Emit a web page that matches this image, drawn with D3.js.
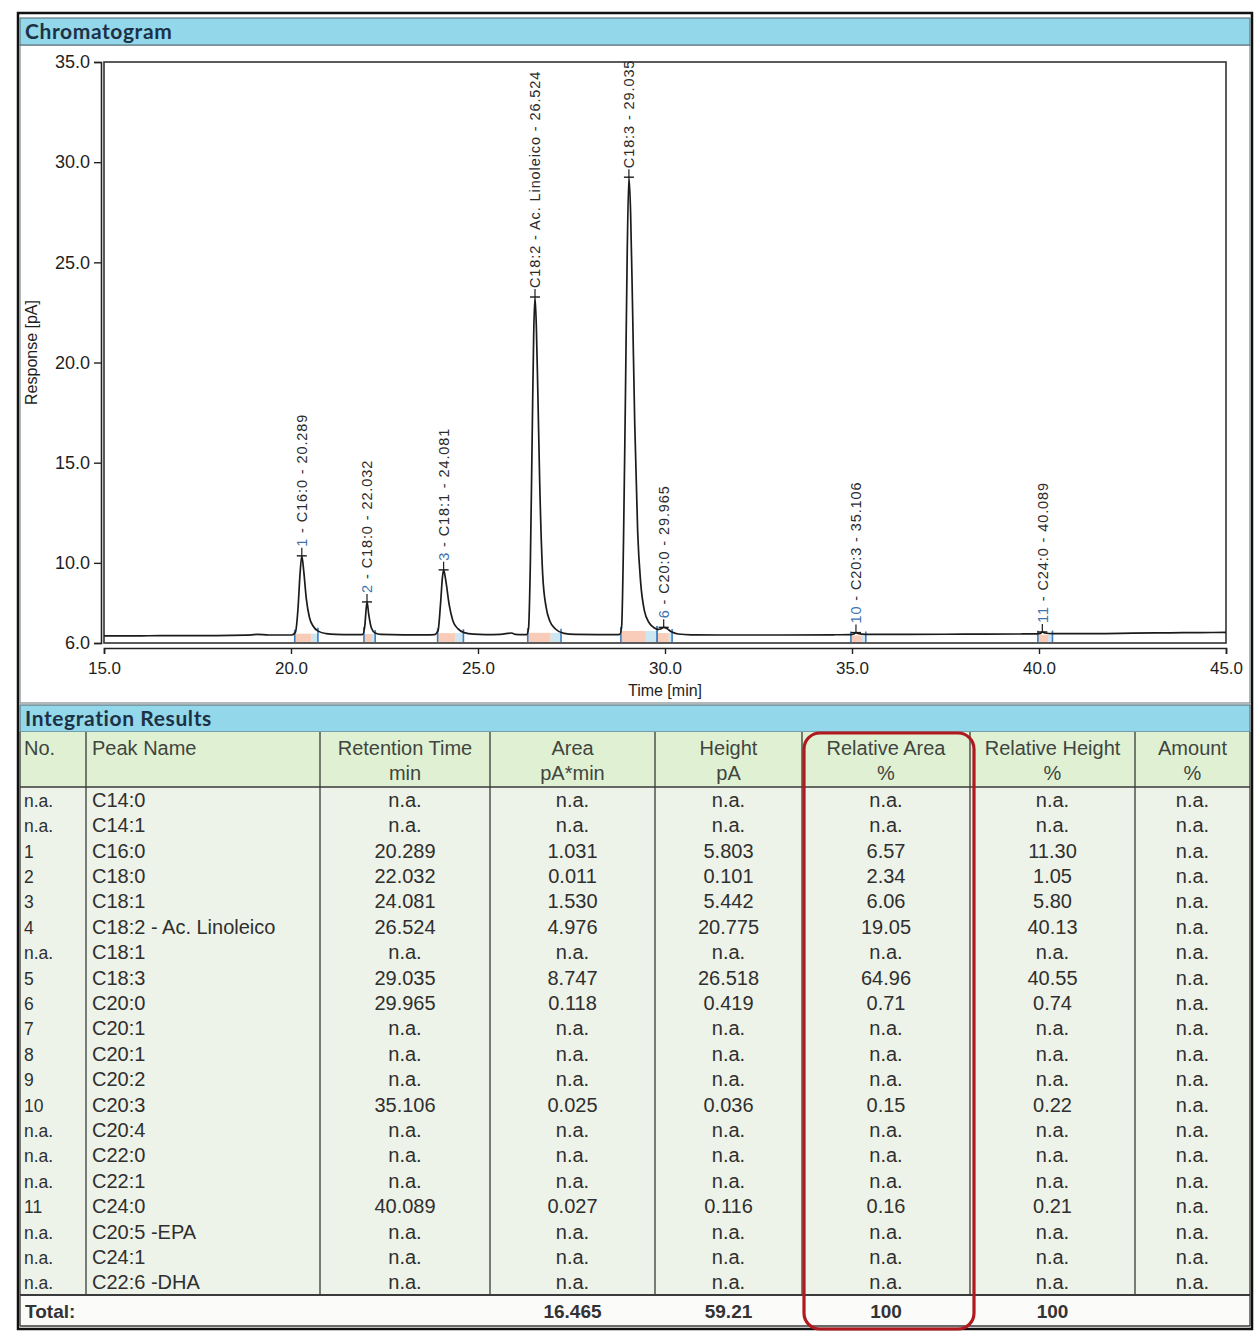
<!DOCTYPE html>
<html>
<head>
<meta charset="utf-8">
<script src="https://cdn.jsdelivr.net/npm/d3@7"></script>
<style>
  html, body { margin: 0; padding: 0; background: #ffffff; }
  svg { display: block; font-family: "Liberation Sans", Arial, sans-serif; }
</style>
</head>
<body>
<svg id="report" width="1254" height="1331"></svg>
<script>
// ---- Chromatogram trace: time (min) and detector response (pA) ----
const traceTime = [
  15.0, 16.0, 17.0, 18.0, 18.8, 19.1, 19.4, 20.0,
  20.04, 20.12, 20.19, 20.24, 20.289, 20.34, 20.41, 20.49, 20.59, 20.74, 20.94, 21.2, 21.6, 21.85,
  21.92, 21.97, 22.032, 22.08, 22.15, 22.25, 22.4, 23.0, 23.6,
  23.84, 23.93, 24.0, 24.05, 24.081, 24.14, 24.23, 24.33, 24.46, 24.63, 24.88, 25.2, 25.6, 25.9, 26.0, 26.2,
  26.3, 26.35, 26.4, 26.45, 26.49, 26.524, 26.56, 26.6, 26.65, 26.73, 26.82, 26.92, 27.07, 27.3, 27.6, 28.2, 28.7,
  28.79, 28.84, 28.89, 28.94, 28.99, 29.035, 29.08, 29.13, 29.19, 29.27, 29.35, 29.45, 29.58, 29.72, 29.82,
  29.88, 29.965, 30.05, 30.17, 30.35, 30.7, 31.5, 33.0, 34.5, 34.95,
  35.05, 35.106, 35.18, 35.35, 36.5, 38.0, 39.5, 39.95,
  40.04, 40.089, 40.16, 40.35, 41.5, 42.5, 43.5, 44.3, 45.0
];
const traceResponse = [
  6.36, 6.36, 6.37, 6.37, 6.39, 6.43, 6.40, 6.40,
  6.41, 6.55, 7.8, 9.4, 10.35, 9.6, 8.2, 7.3, 6.85, 6.58, 6.47, 6.43, 6.42, 6.42,
  6.43, 6.8, 8.05, 7.4, 6.75, 6.5, 6.43, 6.41, 6.41,
  6.42, 6.6, 8.0, 9.3, 9.65, 9.1, 7.9, 7.1, 6.72, 6.52, 6.44, 6.42, 6.43, 6.5, 6.43, 6.42,
  6.42, 6.7, 10.0, 16.5, 21.5, 23.27, 21.8, 18.5, 14.0, 9.4, 7.8, 7.1, 6.7, 6.48, 6.43, 6.42, 6.42,
  6.43, 6.8, 11.0, 18.0, 25.5, 29.25, 27.5, 23.0, 17.0, 11.5, 9.0, 7.6, 7.0, 6.75, 6.68,
  6.7, 6.78, 6.72, 6.56, 6.45, 6.41, 6.40, 6.40, 6.41, 6.42,
  6.45, 6.52, 6.47, 6.43, 6.43, 6.44, 6.45, 6.46,
  6.48, 6.55, 6.5, 6.47, 6.47, 6.49, 6.51, 6.52, 6.53
];

// ---- Identified peaks (number, name, retention time, integration limits) ----
const peakTag   = ["1", "2", "3", "", "", "6", "10", "11"];
const peakName  = ["C16:0", "C18:0", "C18:1", "C18:2 - Ac. Linoleico", "C18:3", "C20:0", "C20:3", "C24:0"];
const peakRT    = [20.289, 22.032, 24.081, 26.524, 29.035, 29.965, 35.106, 40.089];
const peakStart = [20.10, 21.95, 23.92, 26.33, 28.82, 29.79, 34.97, 39.97];
const peakEnd   = [20.72, 22.25, 24.61, 27.22, 29.79, 30.19, 35.37, 40.36];

// ---- Axis ticks ----
const timeTicks = [15, 20, 25, 30, 35, 40, 45];
const responseTicks = [6, 10, 15, 20, 25, 30, 35];

// ---- Integration results table ----
const colHeadTop = ["No.", "Peak Name", "Retention Time", "Area", "Height", "Relative Area", "Relative Height", "Amount"];
const colHeadUnit = ["", "", "min", "pA*min", "pA", "%", "%", "%"];
const rowNo = ["n.a.", "n.a.", "1", "2", "3", "4", "n.a.", "5", "6", "7", "8", "9", "10", "n.a.", "n.a.", "n.a.", "11", "n.a.", "n.a.", "n.a."];
const rowName = ["C14:0", "C14:1", "C16:0", "C18:0", "C18:1", "C18:2 - Ac. Linoleico", "C18:1", "C18:3", "C20:0", "C20:1",
                 "C20:1", "C20:2", "C20:3", "C20:4", "C22:0", "C22:1", "C24:0", "C20:5 -EPA", "C24:1", "C22:6 -DHA"];
const rowRetention = [null, null, 20.289, 22.032, 24.081, 26.524, null, 29.035, 29.965, null,
                      null, null, 35.106, null, null, null, 40.089, null, null, null];
const rowArea = [null, null, 1.031, 0.011, 1.530, 4.976, null, 8.747, 0.118, null,
                 null, null, 0.025, null, null, null, 0.027, null, null, null];
const rowHeight = [null, null, 5.803, 0.101, 5.442, 20.775, null, 26.518, 0.419, null,
                   null, null, 0.036, null, null, null, 0.116, null, null, null];
const rowRelArea = [null, null, 6.57, 2.34, 6.06, 19.05, null, 64.96, 0.71, null,
                    null, null, 0.15, null, null, null, 0.16, null, null, null];
const rowRelHeight = [null, null, 11.30, 1.05, 5.80, 40.13, null, 40.55, 0.74, null,
                      null, null, 0.22, null, null, null, 0.21, null, null, null];
const rowAmount = [null, null, null, null, null, null, null, null, null, null,
                   null, null, null, null, null, null, null, null, null, null];
const totals = ["Total:", "", "", "16.465", "59.21", "100", "100", ""];

// ================= drawing =================
const svg = d3.select("#report");
const W = 1254, H = 1331;

svg.append("rect").attr("width", W).attr("height", H).attr("fill", "#ffffff");

// outer frame of the report page
svg.append("rect").attr("x", 18).attr("y", 13).attr("width", 1234).attr("height", 1316)
  .attr("fill", "none").attr("stroke", "#111").attr("stroke-width", 2.5);

// section title bar
function titleBar(y0, h, label) {
  svg.append("rect").attr("x", 20).attr("y", y0).attr("width", 1230).attr("height", h)
    .attr("fill", "#92d8ea").attr("stroke", "#5f7880").attr("stroke-width", 1.2);
  svg.append("text").attr("x", 25).attr("y", y0 + h - 6)
    .attr("font-family", "Lato, 'Open Sans', sans-serif").attr("font-weight", 700)
    .attr("font-size", 21).attr("letter-spacing", 0.6).attr("fill", "#1d3146").text(label);
}

// ---------- chromatogram panel ----------
svg.append("rect").attr("x", 20).attr("y", 45).attr("width", 1230).attr("height", 658)
  .attr("fill", "#ffffff").attr("stroke", "#7d8a8e").attr("stroke-width", 1.2);
titleBar(18, 27, "Chromatogram");

const x = d3.scaleLinear().domain([15, 45]).range([104, 1226]);
const y = d3.scaleLinear().domain([6, 35]).range([643, 62]);

// plot frame
svg.append("rect")
  .attr("x", x(15)).attr("y", y(35))
  .attr("width", x(45) - x(15)).attr("height", y(6) - y(35))
  .attr("fill", "none").attr("stroke", "#333").attr("stroke-width", 1.6);

svg.append("clipPath").attr("id", "plotClip").append("rect")
  .attr("x", x(15)).attr("y", y(35)).attr("width", x(45) - x(15)).attr("height", y(6) - y(35));

const trace = traceTime.map((t, i) => [t, traceResponse[i]]);
// piecewise-linear lookup of the trace response at any time
const responseAt = d3.scaleLinear().domain(traceTime).range(traceResponse).clamp(true);

// integration limits: shaded strip along the baseline plus delimiter ticks
const marks = svg.append("g").attr("clip-path", "url(#plotClip)");
peakRT.forEach((rt, i) => {
  const x0 = x(peakStart[i]), x1 = x(peakEnd[i]);
  const yb = Math.max(y(responseAt(peakStart[i])), y(responseAt(peakEnd[i])));
  const split = x(rt) + (x1 - x(rt)) * 0.6;
  marks.append("rect").attr("x", x0).attr("y", yb + 1)
    .attr("width", split - x0).attr("height", Math.max(0, y(6) - yb - 2))
    .attr("fill", "#f6b79b").attr("opacity", 0.7);
  marks.append("rect").attr("x", split).attr("y", yb + 1)
    .attr("width", x1 - split).attr("height", Math.max(0, y(6) - yb - 2))
    .attr("fill", "#bfe1ef").attr("opacity", 0.8);
  [x0, x1].forEach(xx => {
    marks.append("line").attr("x1", xx).attr("x2", xx)
      .attr("y1", y(responseAt(xx === x0 ? peakStart[i] : peakEnd[i])) - 3).attr("y2", y(6) - 1)
      .attr("stroke", "#3f7fbf").attr("stroke-width", 1.6);
  });
});

// trace
const line = d3.line().x(d => x(d[0])).y(d => y(d[1])).curve(d3.curveMonotoneX);
svg.append("path").datum(trace)
  .attr("clip-path", "url(#plotClip)")
  .attr("d", line)
  .attr("fill", "none").attr("stroke", "#1b1b1b").attr("stroke-width", 1.7)
  .attr("stroke-linejoin", "round");

// peak apex markers and rotated peak labels
const labels = svg.append("g");
peakRT.forEach((rt, i) => {
  const px = x(rt), py = y(responseAt(rt));
  labels.append("line").attr("x1", px - 5).attr("x2", px + 5).attr("y1", py).attr("y2", py)
    .attr("stroke", "#1b1b1b").attr("stroke-width", 1.4);
  labels.append("line").attr("x1", px).attr("x2", px).attr("y1", py).attr("y2", py - 8)
    .attr("stroke", "#1b1b1b").attr("stroke-width", 1.2);
  const t = labels.append("text")
    .attr("transform", `translate(${px},${py - 9}) rotate(-90)`)
    .attr("dy", "0.36em")
    .attr("font-size", 14.5).attr("letter-spacing", 0.9).attr("fill", "#2b2b2b");
  if (peakTag[i]) {
    t.append("tspan").attr("fill", "#3f74b0").text(peakTag[i]);
    t.append("tspan").text(" - ");
  }
  t.append("tspan").text(`${peakName[i]} - ${rt.toFixed(3)}`);
});

// y axis
const yAxisG = svg.append("g").attr("transform", "translate(101,0)");
yAxisG.call(d3.axisLeft(y).tickValues(d3.range(7, 35).filter(v => !responseTicks.includes(v)))
  .tickSize(4).tickFormat(""));
yAxisG.call(d3.axisLeft(y).tickValues(responseTicks).tickSize(7).tickPadding(4)
  .tickFormat(d3.format(".1f")));
yAxisG.selectAll("path.domain").attr("stroke", "#222").attr("stroke-width", 1.6);
yAxisG.selectAll(".tick line").attr("stroke", "#222").attr("stroke-width", 1.4);
yAxisG.selectAll(".tick text").attr("font-size", 18).attr("fill", "#1e1e1e")
  .attr("font-family", "'Liberation Sans', Arial, sans-serif");

// x axis
const xAxisG = svg.append("g").attr("transform", "translate(0,648)");
xAxisG.call(d3.axisBottom(x).tickValues(d3.range(16, 45).filter(v => !timeTicks.includes(v)))
  .tickSize(4).tickFormat(""));
xAxisG.call(d3.axisBottom(x).tickValues(timeTicks).tickSize(6).tickPadding(8)
  .tickFormat(d3.format(".1f")));
xAxisG.selectAll("path.domain").attr("stroke", "#222").attr("stroke-width", 1.6);
xAxisG.selectAll(".tick line").attr("stroke", "#222").attr("stroke-width", 1.4);
xAxisG.selectAll(".tick text").attr("font-size", 17).attr("fill", "#1e1e1e")
  .attr("font-family", "'Liberation Sans', Arial, sans-serif");

svg.append("text").attr("x", x(30)).attr("y", 696).attr("text-anchor", "middle")
  .attr("font-size", 16).attr("fill", "#1e1e1e").text("Time [min]");
svg.append("text").attr("transform", `translate(37,${(y(6) + y(35)) / 2}) rotate(-90)`)
  .attr("text-anchor", "middle").attr("font-size", 16).attr("fill", "#1e1e1e").text("Response [pA]");

// ---------- integration results ----------
titleBar(705, 27, "Integration Results");

const colEdge = [20, 86, 320, 490, 655, 802, 970, 1135, 1250];
const colAlign = ["start", "start", "middle", "middle", "middle", "middle", "middle", "middle"];
const colX = colEdge.slice(0, -1).map((e, i) =>
  colAlign[i] === "start" ? e + (i === 0 ? 4 : 6) : (e + colEdge[i + 1]) / 2);

const headTop = 732, headBottom = 787, rowH = 25.4;
const nRows = rowNo.length;
const bodyBottom = headBottom + nRows * rowH;
const totalBottom = 1326;

svg.append("rect").attr("x", 20).attr("y", headTop).attr("width", 1230).attr("height", headBottom - headTop)
  .attr("fill", "#e0f1d3");
svg.append("rect").attr("x", 20).attr("y", headBottom).attr("width", 1230).attr("height", bodyBottom - headBottom)
  .attr("fill", "#eef3e9");
svg.append("rect").attr("x", 20).attr("y", bodyBottom).attr("width", 1230).attr("height", totalBottom - bodyBottom)
  .attr("fill", "#fbfbfa");

// column separators (header + body)
colEdge.forEach((e, i) => {
  svg.append("line").attr("x1", e).attr("x2", e).attr("y1", headTop)
    .attr("y2", i === 0 || i === colEdge.length - 1 ? totalBottom : bodyBottom)
    .attr("stroke", "#3a3a3a").attr("stroke-width", 1.3);
});
[headBottom, bodyBottom, totalBottom].forEach(yy => {
  svg.append("line").attr("x1", 20).attr("x2", 1250).attr("y1", yy).attr("y2", yy)
    .attr("stroke", "#3a3a3a").attr("stroke-width", yy === bodyBottom ? 2 : 1.3);
});

const tableFont = 20;
const head = svg.append("g").attr("font-size", tableFont).attr("fill", "#404540");
colHeadTop.forEach((h, i) => {
  head.append("text").attr("x", colX[i]).attr("y", 755).attr("text-anchor", colAlign[i]).text(h);
  if (colHeadUnit[i]) {
    head.append("text").attr("x", colX[i]).attr("y", 780).attr("text-anchor", colAlign[i]).text(colHeadUnit[i]);
  }
});

const fmt3 = d3.format(".3f"), fmt2 = d3.format(".2f");
const na = f => v => (v == null ? "n.a." : f(v));
const columns = [
  { values: rowNo, f: v => v },
  { values: rowName, f: v => v },
  { values: rowRetention, f: na(fmt3) },
  { values: rowArea, f: na(fmt3) },
  { values: rowHeight, f: na(fmt3) },
  { values: rowRelArea, f: na(fmt2) },
  { values: rowRelHeight, f: na(fmt2) },
  { values: rowAmount, f: na(fmt2) }
];

const body = svg.append("g").attr("font-size", tableFont).attr("fill", "#2f2f2f");
columns.forEach((c, ci) => {
  body.selectAll(null).data(c.values).join("text")
    .attr("x", colX[ci])
    .attr("y", (d, ri) => headBottom + ri * rowH + rowH / 2 + 7)
    .attr("text-anchor", colAlign[ci])
    .attr("font-size", ci === 0 ? 17.5 : tableFont)
    .text(d => c.f(d));
});

const tot = svg.append("g").attr("font-size", 19).attr("font-weight", 700).attr("fill", "#333");
totals.forEach((t, i) => {
  if (!t) return;
  tot.append("text").attr("x", i === 0 ? 25 : colX[i]).attr("y", 1318)
    .attr("text-anchor", i === 0 ? "start" : "middle").text(t);
});

// highlight around the relative area column
svg.append("rect").attr("x", 804).attr("y", 733).attr("width", 170).attr("height", 596)
  .attr("rx", 16).attr("fill", "none").attr("stroke", "#b01a1f").attr("stroke-width", 3.2);
</script>
</body>
</html>
